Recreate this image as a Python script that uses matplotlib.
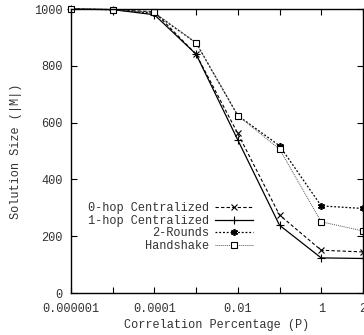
import matplotlib
matplotlib.use('Agg')
import matplotlib.pyplot as plt

plt.rcParams['font.family'] = ['Liberation Mono', 'DejaVu Sans Mono']

# categorical x positions (gnuplot style)
x_labels = ['0.000001', '0.00001', '0.0001', '0.001', '0.01', '0.1', '1', '2']
shown = {0: '0.000001', 2: '0.0001', 4: '0.01', 6: '1', 7: '2'}

hop0 = [1000, 998, 990, 841, 562, 275, 151, 145]
hop1 = [1000, 998, 980, 841, 539, 239, 124, 122]
rounds2 = [1000, 998, 985, 881, 625, 519, 307, 298]
handshake = [1000, 998, 988, 881, 625, 507, 251, 219]

fs = 8.6
fig = plt.figure(figsize=(3.64, 3.35), dpi=100)
ax = fig.add_axes([0.195, 0.125, 0.802, 0.848])
xs = list(range(len(x_labels)))

ax.plot(xs, hop0, color='black', ls=(0, (3, 2)), lw=0.8, marker='x', ms=5, mew=0.8,
        label='0-hop Centralized', clip_on=False)
ax.plot(xs, hop1, color='black', ls='-', lw=0.9, marker='+', ms=6, mew=0.8,
        label='1-hop Centralized', clip_on=False)
ax.plot(xs, rounds2, color='black', ls=(0, (1.5, 1.5)), lw=0.9, marker=(6, 2, 0), ms=5, mew=1.2,
        label='2-Rounds', clip_on=False)
ax.plot(xs, handshake, color='#555555', ls=(0, (1, 1)), lw=0.7, marker='s', ms=4.5, mew=0.8,
        mfc='white', mec='black', label='Handshake', clip_on=False)

ax.set_xlim(0, 7)
ax.set_ylim(0, 1000)
ax.set_xticks(xs)
ax.set_xticklabels([shown.get(i, '') for i in xs], fontsize=fs)
ax.set_yticks([0, 200, 400, 600, 800, 1000])
ax.tick_params(axis='both', direction='in', top=True, right=True, length=4, width=0.8,
               labelsize=fs, colors='black', labelcolor='#333333')
ax.tick_params(axis='x', pad=7)
ax.tick_params(axis='y', pad=6)
for s in ax.spines.values():
    s.set_linewidth(1.0)

ax.set_xlabel('Correlation Percentage (P)', fontsize=fs, color='#333333', labelpad=3)
ax.set_ylabel('Solution Size (|M|)', fontsize=fs, color='#333333', labelpad=9)

leg = ax.legend(loc='upper right', bbox_to_anchor=(0.625, 0.32), frameon=False, fontsize=fs,
                markerfirst=False, handlelength=3.2, handletextpad=0.5, labelspacing=0.05,
                borderaxespad=0.0, borderpad=0.0)
for t in leg.get_texts():
    t.set_ha('right')
    t.set_color('#333333')
leg._legend_box.align = 'right'

fig.savefig('out.png', dpi=100)
